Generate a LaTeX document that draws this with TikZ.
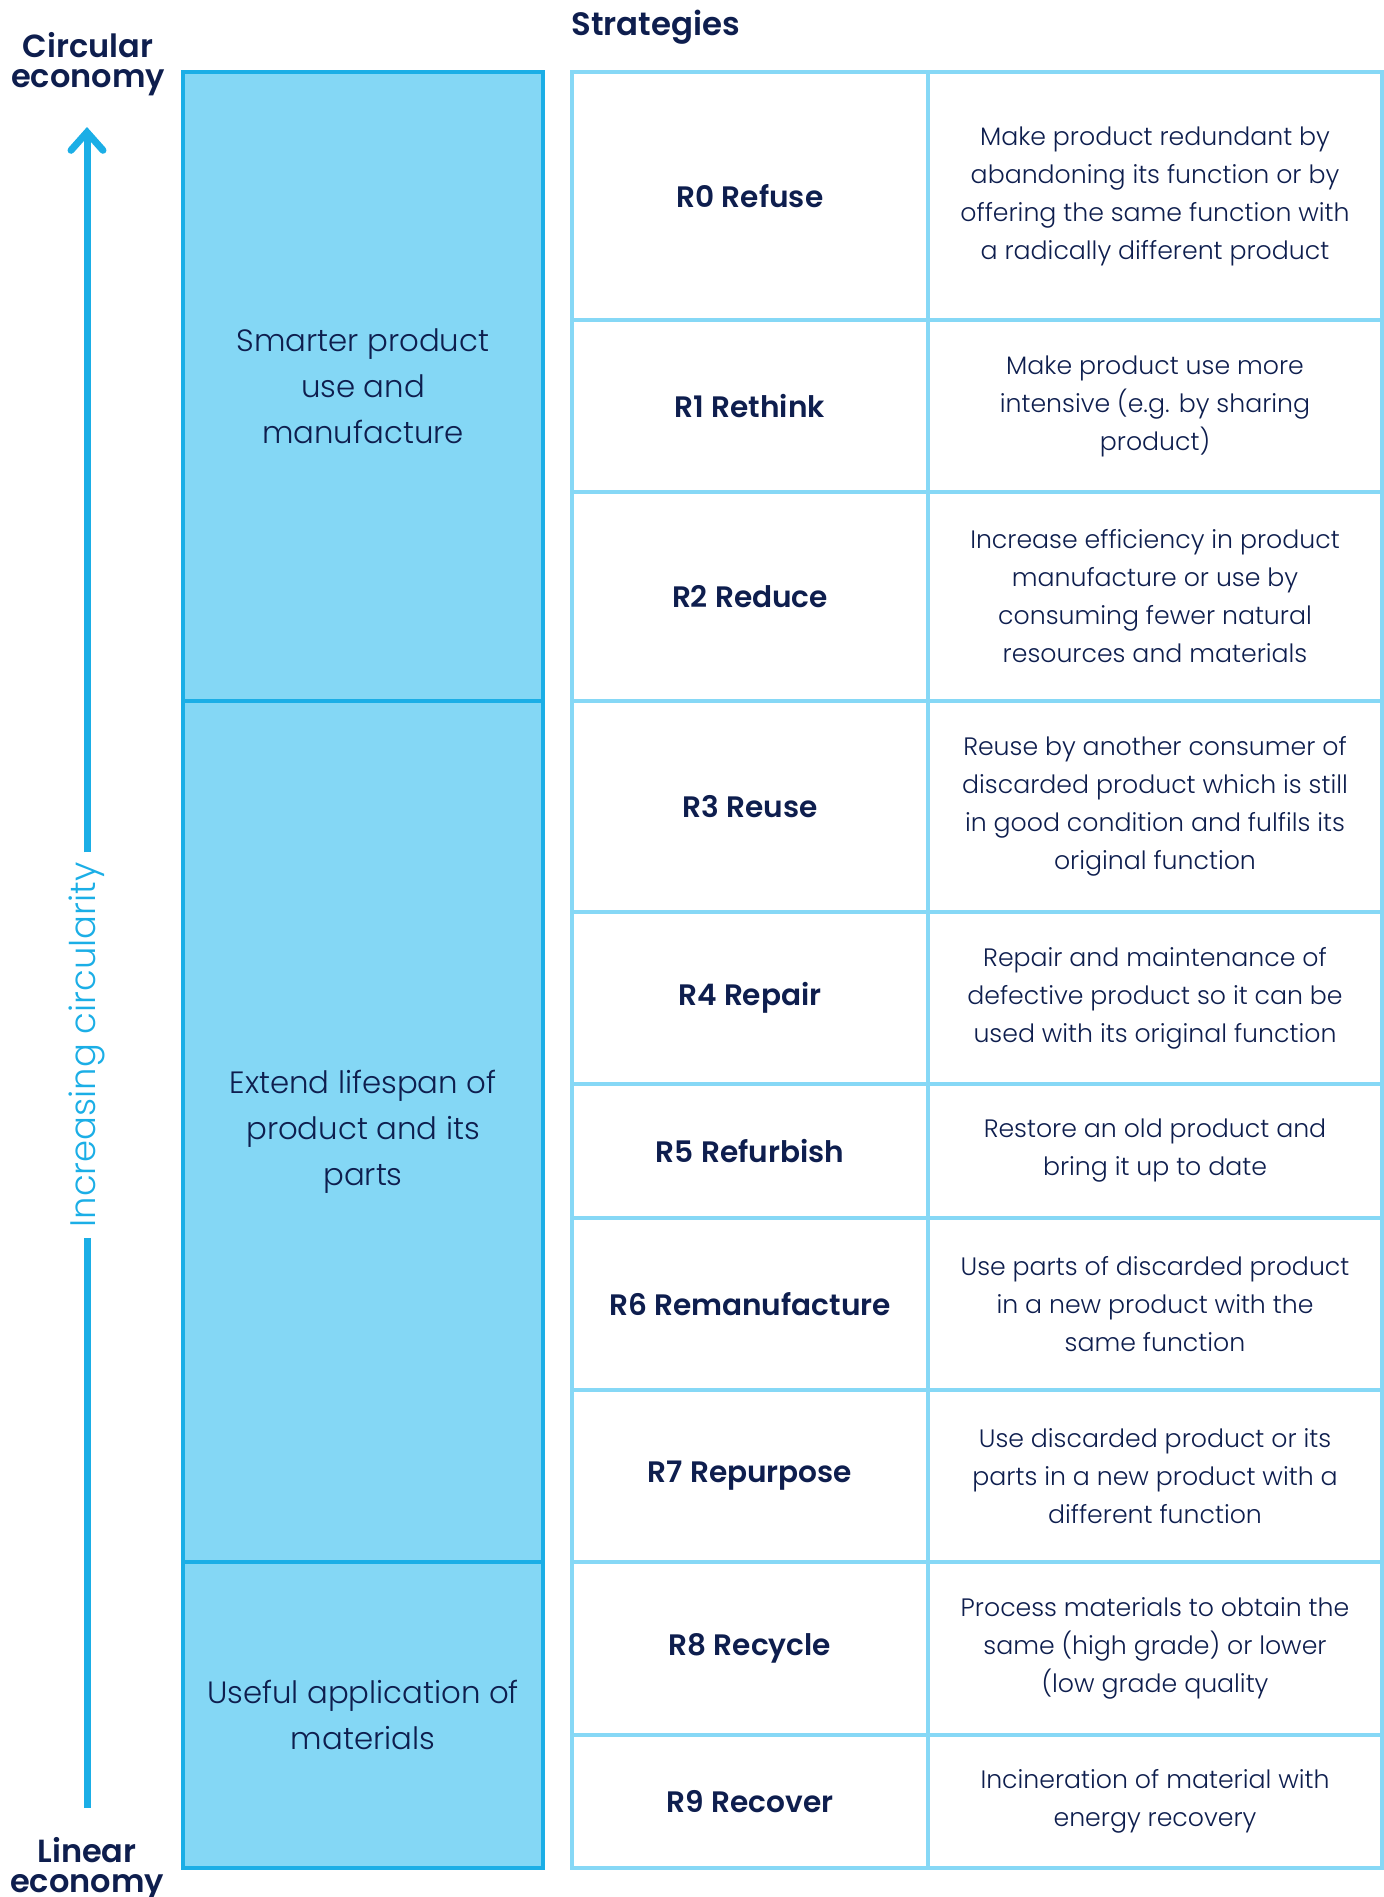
\documentclass[tikz,border=0pt]{standalone}
\usepackage{fontspec}
\setmainfont{Poppins}[UprightFont={* Light},BoldFont={* SemiBold}]
\usetikzlibrary{arrows.meta}
\definecolor{navy}{HTML}{0E1E4E}
\definecolor{fillblue}{HTML}{84D7F5}
\definecolor{darkblue}{HTML}{1BAEE6}
\definecolor{lineblue}{HTML}{86D8F6}
\tikzset{
  labcell/.style={draw=lineblue,line width=2pt,minimum width=178pt,inner sep=0pt,
    font=\bfseries\fontsize{14.8pt}{18pt}\selectfont,text=navy},
  desccell/.style={draw=lineblue,line width=2pt,minimum width=227pt,inner sep=0pt,
    align=center,font=\fontsize{12.6pt}{19pt}\selectfont,text=navy},
  groupbox/.style={draw=darkblue,fill=fillblue,line width=2pt,minimum width=180pt,inner sep=0pt,
    align=center,font=\fontsize{15.4pt}{23pt}\selectfont,text=navy},
  headtxt/.style={align=center,inner sep=0pt,font=\bfseries\fontsize{16pt}{15pt}\selectfont,text=navy},
  axisline/.style={draw=darkblue,line width=3.5pt},
}
\begin{document}
\begin{tikzpicture}[x=0.5pt,y=-0.5pt]
\useasboundingbox (0,0) rectangle (1384,1897);
% headings
\node[headtxt] (circ) at (88,64) {Circular\\economy};
\node[headtxt] (lin) at (87,1869) {Linear\\economy};
\node[headtxt,anchor=base west,font=\bfseries\fontsize{16.2pt}{18pt}\selectfont] (strat) at (571,35) {Strategies};
% group boxes
\node[groupbox,minimum height=314.5pt] (g1) at (363,386.5) {Smarter product\\use and\\manufacture};
\node[groupbox,minimum height=430.5pt] (g2) at (363,1131.5) {Extend lifespan of\\product and its\\parts};
\node[groupbox,minimum height=153pt] (g3) at (363,1715) {Useful application of\\materials};
% table rows
\node[labcell,minimum height=124pt] (l0) at (750,196) {R0 Refuse};
\node[desccell,minimum height=124pt] (d0) at (1155,196) {Make product redundant by\\abandoning its function or by\\offering the same function with\\a radically different product};
\node[labcell,minimum height=86pt] (l1) at (750,406) {R1 Rethink};
\node[desccell,minimum height=86pt] (d1) at (1155,406) {Make product use more\\intensive (e.g. by sharing\\product)};
\node[labcell,minimum height=104.5pt] (l2) at (750,596.5) {R2 Reduce};
\node[desccell,minimum height=104.5pt] (d2) at (1155,596.5) {Increase efficiency in product\\manufacture or use by\\consuming fewer natural\\resources and materials};
\node[labcell,minimum height=105.5pt] (l3) at (750,806.5) {R3 Reuse};
\node[desccell,minimum height=105.5pt] (d3) at (1155,806.5) {Reuse by another consumer of\\discarded product which is still\\in good condition and fulfils its\\original function};
\node[labcell,minimum height=86pt] (l4) at (750,998) {R4 Repair};
\node[desccell,minimum height=86pt] (d4) at (1155,998) {Repair and maintenance of\\defective product so it can be\\used with its original function};
\node[labcell,minimum height=67pt] (l5) at (750,1151) {R5 Refurbish};
\node[desccell,minimum height=67pt] (d5) at (1155,1151) {Restore an old product and\\bring it up to date};
\node[labcell,minimum height=86pt] (l6) at (750,1304) {R6 Remanufacture};
\node[desccell,minimum height=86pt] (d6) at (1155,1304) {Use parts of discarded product\\in a new product with the\\same function};
\node[labcell,minimum height=86pt] (l7) at (750,1476) {R7 Repurpose};
\node[desccell,minimum height=86pt] (d7) at (1155,1476) {Use discarded product or its\\parts in a new product with a\\different function};
\node[labcell,minimum height=86.5pt] (l8) at (750,1648.5) {R8 Recycle};
\node[desccell,minimum height=86.5pt] (d8) at (1155,1648.5) {Process materials to obtain the\\same (high grade) or lower\\(low grade quality};
\node[labcell,minimum height=66.5pt] (l9) at (750,1801.5) {R9 Recover};
\node[desccell,minimum height=66.5pt] (d9) at (1155,1801.5) {Incineration of material with\\energy recovery};
% axis
\coordinate (abot) at (87,1808);
\coordinate (atop) at (87,127);
\node[rotate=90,inner xsep=5pt,inner ysep=0pt,text=darkblue,font=\fontsize{17.7pt}{20pt}\selectfont] (inc) at (87,1045) {Increasing circularity};
\draw[axisline] (abot) -- (inc.west);
\draw[axisline,-{Straight Barb[length=9pt,width=16pt,line cap=round]}] (inc.east) -- (atop);
\end{tikzpicture}
\end{document}
